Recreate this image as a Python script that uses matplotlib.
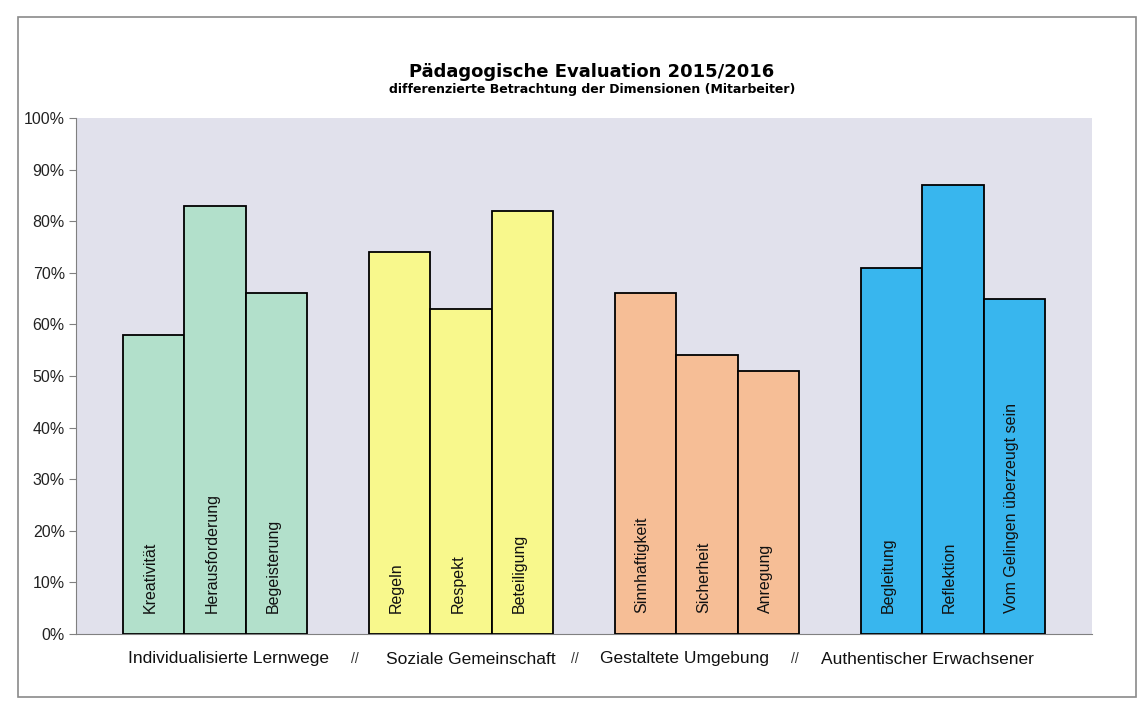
import matplotlib.pyplot as plt
from matplotlib.patches import Rectangle
from matplotlib.ticker import PercentFormatter

# --------------------------------------------------
# DATA
# --------------------------------------------------
groups = ["Individualisierte Lernwege", "Soziale Gemeinschaft",
          "Gestaltete Umgebung", "Authentischer Erwachsener"]

items = [
    ["Kreativität", "Herausforderung", "Begeisterung"],
    ["Regeln", "Respekt", "Beteiligung"],
    ["Sinnhaftigkeit", "Sicherheit", "Anregung"],
    ["Begleitung", "Reflektion", "Vom Gelingen überzeugt sein"],
]

values = [
    [58, 83, 66],
    [74, 63, 82],
    [66, 54, 51],
    [71, 87, 65],
]

group_colors = ["#B2E0CB", "#F8F88C", "#F6BE96", "#38B6EE"]

# --------------------------------------------------
# FIGURE
# --------------------------------------------------
plt.rcParams["font.family"] = ["Liberation Sans", "DejaVu Sans"]

fig = plt.figure(figsize=(11.42, 7.02), dpi=100)
ax = fig.add_axes([0.0665, 0.097, 0.8895, 0.735])
ax.set_facecolor("#E1E1EC")

# outer chart frame
fig.patches.append(Rectangle((18 / 1142, 5 / 702), 1118 / 1142, 680 / 702,
                             transform=fig.transFigure, fill=False,
                             edgecolor="#8A8A8A", lw=1.2))

for g, (names, vals, col) in enumerate(zip(items, values, group_colors)):
    xs = [g * 4 + i for i in range(len(vals))]
    ax.bar(xs, vals, width=1.0, color=col, edgecolor="black", linewidth=1.3,
           zorder=3)
    for x, name in zip(xs, names):
        ax.text(x - 0.05, 4, name, rotation=90, ha="center", va="bottom",
                fontsize=11.5, zorder=4, color="#111111")

ax.set_xlim(-1.26, 15.26)
ax.set_ylim(0, 100)
ax.set_yticks(range(0, 101, 10))
ax.yaxis.set_major_formatter(PercentFormatter(decimals=0))
ax.tick_params(axis="y", labelsize=11.5, length=5, color="#808080", pad=3,
               labelcolor="#222222")
ax.set_xticks([])

for s in ["top", "right"]:
    ax.spines[s].set_visible(False)
ax.spines["left"].set_color("#808080")
ax.spines["bottom"].set_color("#808080")

# group labels below the axis
label_pos = [229, 471, 685, 927]
for px, name in zip(label_pos, groups):
    fig.text(px / 1142, 1 - 659 / 702, name, ha="center", va="center",
             fontsize=12.5, color="#111111")
for px in [355, 575, 795]:
    fig.text(px / 1142, 1 - 659 / 702, "//", ha="center", va="center",
             fontsize=10, color="#333333")

fig.text(592 / 1142, 1 - 72 / 702, "Pädagogische Evaluation 2015/2016",
         ha="center", va="center", fontsize=13, fontweight="bold",
         family="DejaVu Sans")
fig.text(592 / 1142, 1 - 90 / 702,
         "differenzierte Betrachtung der Dimensionen (Mitarbeiter)",
         ha="center", va="center", fontsize=9, fontweight="bold",
         family="DejaVu Sans")

fig.savefig("out.png", dpi=100)
